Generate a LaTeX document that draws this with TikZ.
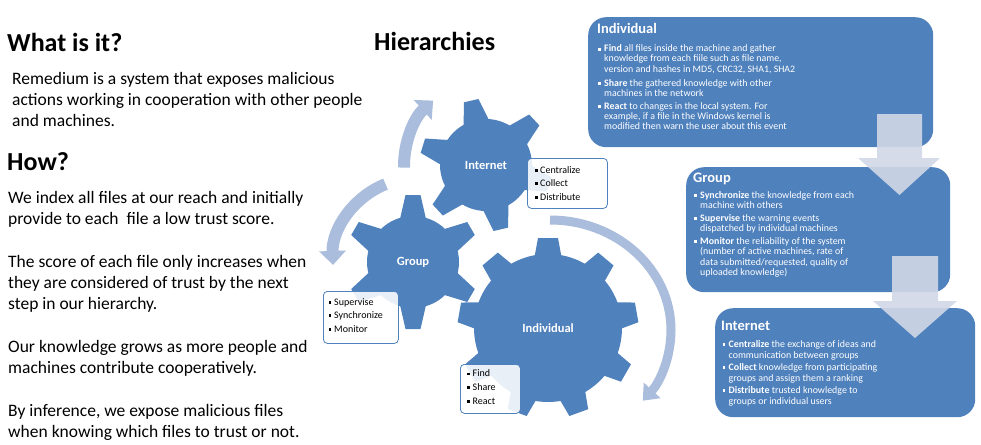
\documentclass[tikz,border=0pt]{standalone}
\usepackage{fontspec}
\setmainfont{Carlito}
\usetikzlibrary{arrows.meta,calc}
\definecolor{gearblue}{RGB}{79,129,189}
\definecolor{arcblue}{RGB}{170,189,220}
\definecolor{downfill}{RGB}{210,216,231}
\newcommand\wsq{\raisebox{1.1pt}{\rule{2.6pt}{2.6pt}}}
\newcommand\bl[1]{\makebox[#1][l]{\wsq}}
\newcommand\gearteeth[7]{%
  \foreach \k in {1,...,#7}{%
    \pgfmathsetmacro\ga{#6+(\k-1)*360/#7}%
    \fill[gearblue] ($(#1)+({-\ga}:#2)+({-\ga+90}:#4)$) -- ($(#1)+({-\ga}:#3)+({-\ga+90}:#5)$) -- ($(#1)+({-\ga}:#3)+({-\ga-90}:#5)$) -- ($(#1)+({-\ga}:#2)+({-\ga-90}:#4)$) -- cycle;
  }%
}
\begin{document}
\begin{tikzpicture}[x=1pt,y=-1pt,
  every node/.style={inner sep=0pt},
  tl/.style={anchor=base west},
  bodytxt/.style={tl,font=\fontsize{17.5}{21}\selectfont},
  headtxt/.style={tl,font=\fontsize{26}{30}\selectfont\bfseries},
  bx/.style={tl,text=white,font=\fontsize{9.9}{10}\selectfont},
  bxt/.style={tl,text=white,font=\fontsize{14.5}{16}\selectfont\bfseries},
  sx/.style={tl,font=\fontsize{10}{10}\selectfont},
  bigbox/.style={fill=gearblue,rounded corners=18pt,anchor=north west},
  sbox/.style={draw=gearblue,line width=0.8pt,fill=white,fill opacity=0.88,rounded corners=4pt,anchor=north west},
  gearbody/.style={circle,fill=gearblue,text=white,font=\fontsize{12.5}{14}\selectfont\bfseries},
  circarrow/.style={draw=arcblue,line width=12pt},
  downarrow/.style={fill=downfill,fill opacity=0.9},
  ]
\fill[white] (0,0) rectangle (981,444);
\useasboundingbox (0,0) rectangle (981,444);

% left text
\node[headtxt] (h1) at (7,52) {What is it?};
\node[bodytxt] (l1) at (12,84) {Remedium is a system that exposes malicious};
\node[bodytxt] (l2) at (12,105) {actions working in cooperation with other people};
\node[bodytxt] (l3) at (12,126) {and machines.};
\node[headtxt] (h2) at (7,170) {How?};
\node[bodytxt] (l4) at (8,203) {We index all files at our reach and initially};
\node[bodytxt] (l5) at (8,224) {provide to each~ file a low trust score.};
\node[bodytxt] (l6) at (8,267) {The score of each file only increases when};
\node[bodytxt] (l7) at (8,288) {they are considered of trust by the next};
\node[bodytxt] (l8) at (8,309) {step in our hierarchy.};
\node[bodytxt] (l9) at (8,352) {Our knowledge grows as more people and};
\node[bodytxt] (l10) at (8,373) {machines contribute cooperatively.};
\node[bodytxt] (l11) at (8,416) {By inference, we expose malicious files};
\node[bodytxt] (l12) at (8,437) {when knowing which files to trust or not.};
\node[headtxt] (h3) at (374,51) {Hierarchies};

% circular arrows
\coordinate (ca) at (492,166);
\coordinate (cb) at (417,262);
\coordinate (cc) at (550,330);
\draw[circarrow,-{Triangle[width=26pt,length=14pt]}] ([shift={(-181:88)}]ca) arc[start angle=-181,end angle=-132,radius=88];
\draw[circarrow,-{Triangle[width=26pt,length=14pt]}] ([shift={(-112:84)}]cb) arc[start angle=-112,end angle=-182,radius=84];
\draw[circarrow,line width=9pt,-{Triangle[width=22pt,length=14pt]}] ([shift={(-90:120 and 110)}]cc) arc[start angle=-90,end angle=40,x radius=121,y radius=110];

% gears
\coordinate (cind) at (548,328);
\coordinate (cgrp) at (413,262);
\coordinate (cint) at (486,165);
\gearteeth{cind}{71}{90}{13.5}{10}{90}{9}
\gearteeth{cgrp}{43}{67}{13}{7.5}{90}{6}
\gearteeth{cint}{43}{66}{13}{7.5}{103}{6}
\node[gearbody,minimum size=148pt] (gind) at (cind) {Individual};
\node[gearbody,minimum size=92pt] (ggrp) at (cgrp) {Group};
\node[gearbody,minimum size=92pt] (gint) at (cint) {Internet};

% small boxes
\node[sbox,minimum width=80pt,minimum height=50pt] (sint) at (527,158) {};
\node[sx] (si1) at (535,173) {\bl{5pt}Centralize};
\node[sx] (si2) at (535,186) {\bl{5pt}Collect};
\node[sx] (si3) at (535,200) {\bl{5pt}Distribute};
\node[sbox,minimum width=75pt,minimum height=52pt] (sgrp) at (323,291) {};
\node[sx] (sg1) at (328.5,305) {\bl{5.5pt}Supervise};
\node[sx] (sg2) at (328.5,318) {\bl{5.5pt}Synchronize};
\node[sx] (sg3) at (328.5,332) {\bl{5.5pt}Monitor};
\node[sbox,minimum width=60pt,minimum height=49pt] (sind) at (460,364) {};
\node[sx] (sn1) at (467,376.5) {\bl{5.5pt}Find};
\node[sx] (sn2) at (467,390) {\bl{5.5pt}Share};
\node[sx] (sn3) at (467,404) {\bl{5.5pt}React};

% right boxes
\node[bigbox,minimum width=345pt,minimum height=130pt] (bind) at (588,17) {};
\node[bigbox,minimum width=264pt,minimum height=125pt] (bgrp) at (686,167) {};
\node[bigbox,minimum width=260pt,minimum height=109pt] (bint) at (715,308) {};

\node[bxt] (t1) at (597,34) {Individual};
\node[bx] (a1) at (598,52) {\bl{6pt}\textbf{Find} all files inside the machine and gather};
\node[bx] (a2) at (604,62) {knowledge from each fiile such as file name,};
\node[bx] (a3) at (604,72) {version and hashes in MD5, CRC32, SHA1, SHA2};
\node[bx] (a4) at (598,86) {\bl{6pt}\textbf{Share} the gathered knowledge with other};
\node[bx] (a5) at (604,96) {machines in the network};
\node[bx] (a6) at (598,109) {\bl{6pt}\textbf{React} to changes in the local system. For};
\node[bx] (a7) at (604,119) {example, if a file in the Windows kernel is};
\node[bx] (a8) at (604,129) {modified then warn the user about this event};

\node[bxt] (t2) at (693,182) {Group};
\node[bx] (b1) at (694,198) {\bl{6pt}\textbf{Synchronize} the knowledge from each};
\node[bx] (b2) at (700,208.5) {machine with others};
\node[bx] (b3) at (694,221) {\bl{6pt}\textbf{Supervise} the warning events};
\node[bx] (b4) at (700,231.5) {dispatched by individual machines};
\node[bx] (b5) at (694,244) {\bl{6pt}\textbf{Monitor} the reliability of the system};
\node[bx] (b6) at (700,254.5) {(number of active machines, rate of};
\node[bx] (b7) at (700,265) {data submitted/requested, quality of};
\node[bx] (b8) at (700,275.5) {uploaded knowledge)};

\node[bxt] (t3) at (721,330) {Internet};
\node[bx] (c1) at (722.5,347) {\bl{6pt}\textbf{Centralize} the exchange of ideas and};
\node[bx] (c2) at (728.5,358) {communication between groups};
\node[bx] (c3) at (722.5,370) {\bl{6pt}\textbf{Collect} knowledge from participating};
\node[bx] (c4) at (728.5,381) {groups and assign them a ranking};
\node[bx] (c5) at (722.5,393) {\bl{6pt}\textbf{Distribute} trusted knowledge to};
\node[bx] (c6) at (728.5,404) {groups or individual users};

% down arrows
\fill[downarrow] (877,114) -- (922,114) -- (922,158) -- (940,158) -- (899.5,195) -- (858,158) -- (877,158) -- cycle;
\fill[downarrow] (892,256) -- (938,256) -- (938,301) -- (957,301) -- (915,338) -- (873,301) -- (892,301) -- cycle;
\end{tikzpicture}
\end{document}
